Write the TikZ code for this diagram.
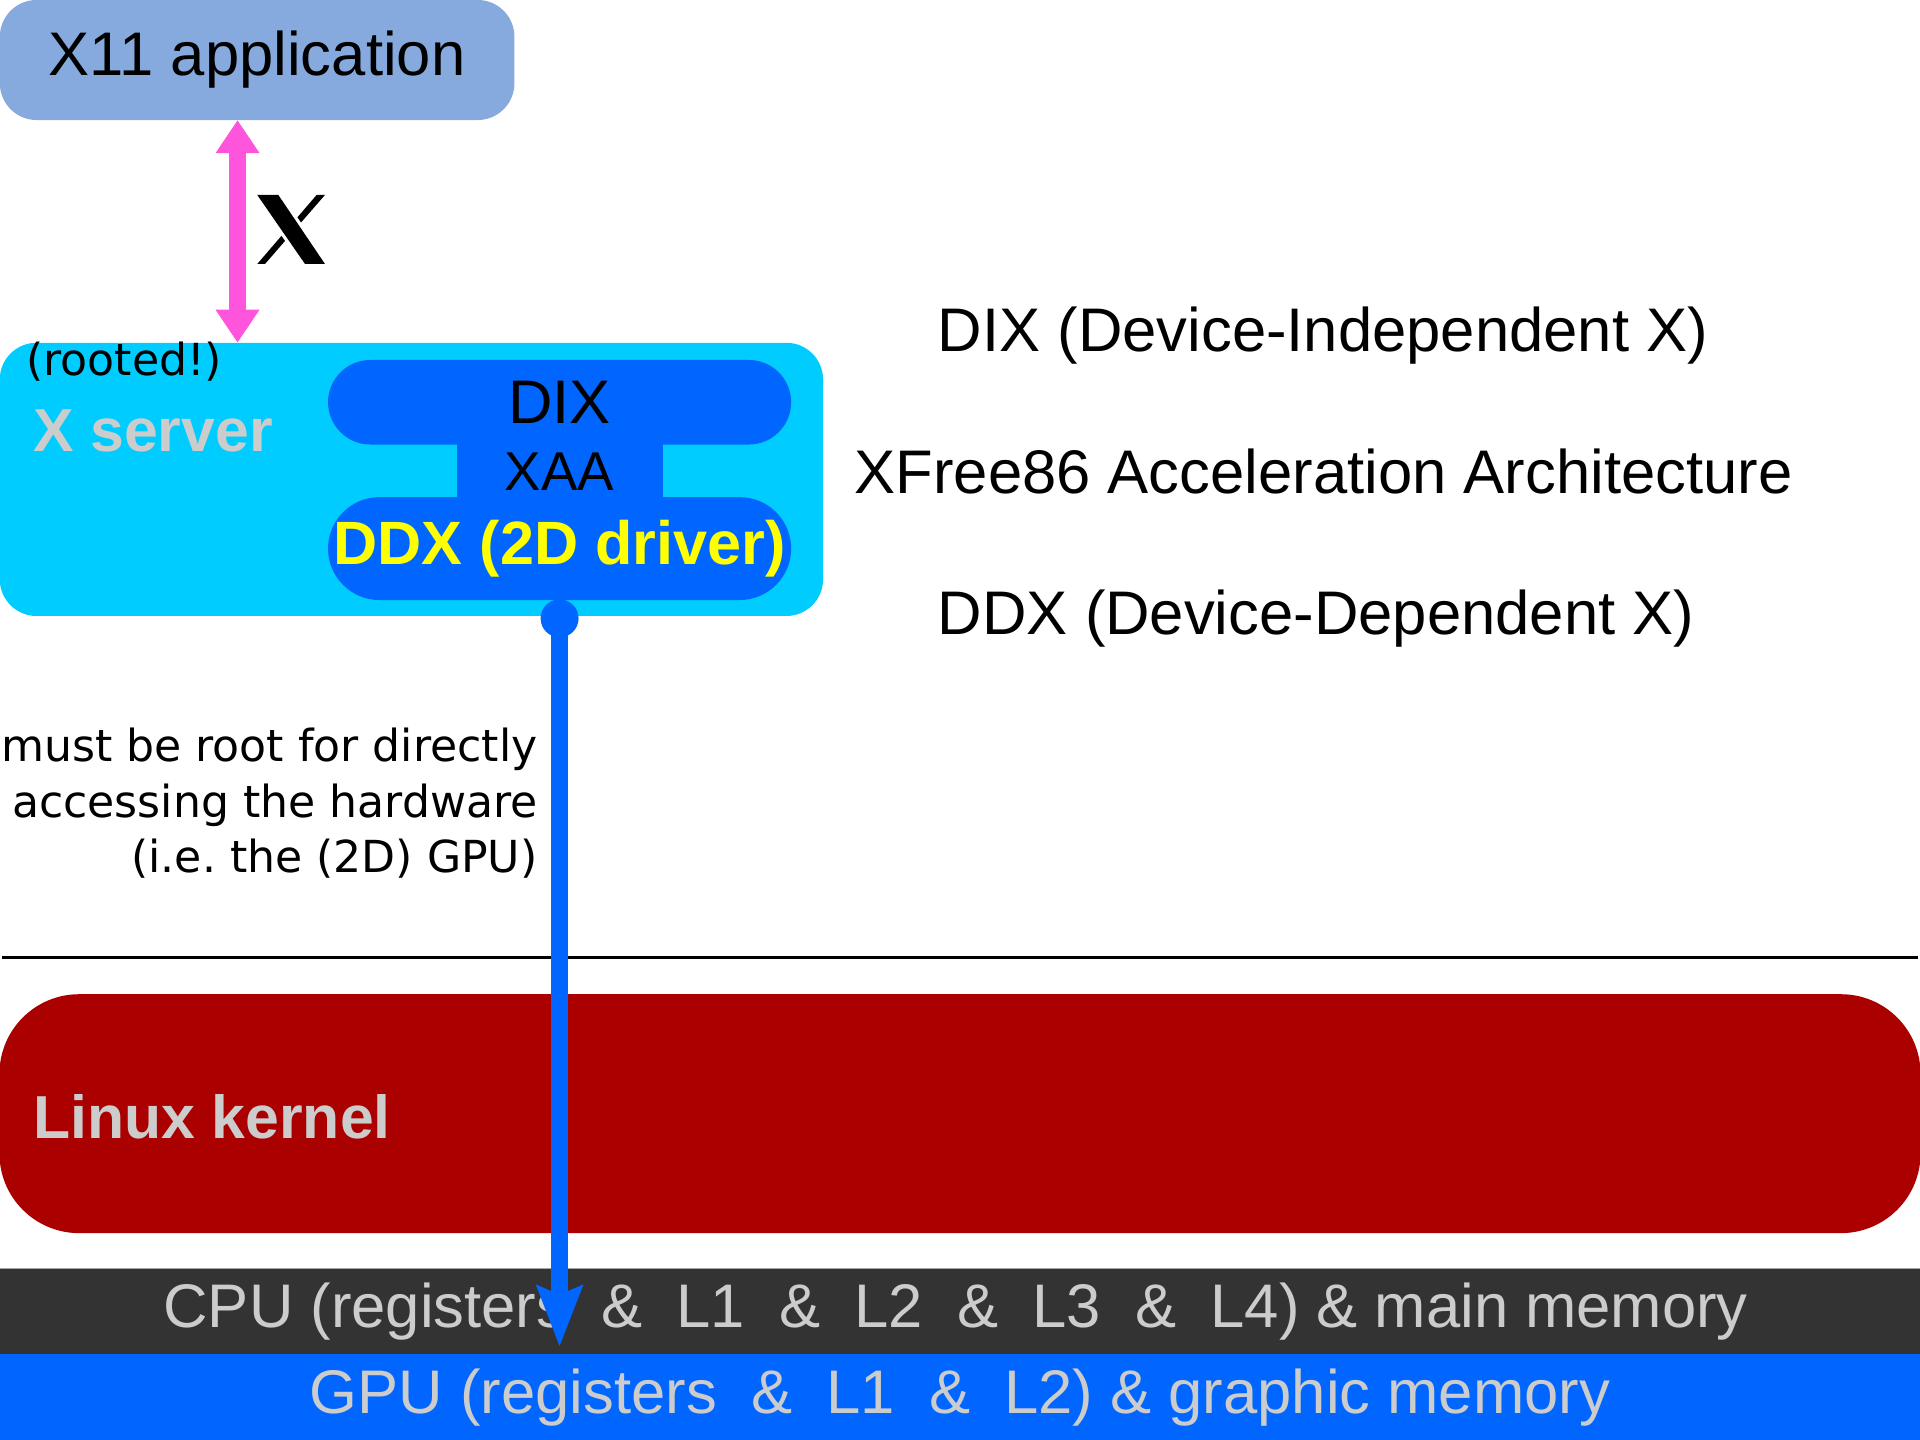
\documentclass[tikz,border=0pt]{standalone}
\usepackage{fontspec}
\setmainfont{Liberation Sans}
\newfontfamily\dejavu{DejaVu Sans}
\usetikzlibrary{arrows.meta}
\usetikzlibrary{calc}

\definecolor{appblue}{HTML}{87AADE}
\definecolor{xcyan}{HTML}{00CCFF}
\definecolor{ddxblue}{HTML}{0066FF}
\definecolor{xpink}{HTML}{FF55DD}
\definecolor{kernred}{HTML}{AA0000}
\definecolor{labelgray}{HTML}{CCCCCC}
\definecolor{cpugray}{HTML}{333333}
\definecolor{ddxyellow}{HTML}{FFFF00}

\tikzset{
	box/.style={inner sep=0pt, outer sep=0pt},
	big/.style={font=\fontsize{14.3}{17}\selectfont},
	bigbold/.style={font=\fontsize{14.1}{17}\selectfont\bfseries},
	small/.style={font=\dejavu\fontsize{10.25}{12.95}\selectfont},
	xproto/.style={draw=xpink, line width=0.142cm,
		arrows={Triangle[length=0.27cm,width=0.34cm]-Triangle[length=0.27cm,width=0.34cm]}},
	hwaccess/.style={draw=ddxblue, line width=0.136cm,
		arrows={-Stealth[length=0.495cm,width=0.364cm,inset=0.07cm]}}
}

\begin{document}
\begin{tikzpicture}[x=0.01cm,y=-0.01cm]
	%% page frame (1 unit = 1 px of the picture)
	\useasboundingbox (0,0) rectangle (1568,1176);

	%% X11 client on top
	\node[box, big, fill=appblue, rounded corners=0.3cm,
		minimum width=4.2cm, minimum height=0.98cm] (app) at (210,49) {X11 application};

	%% X server and its layers
	\node[box, fill=xcyan, rounded corners=0.3cm,
		minimum width=6.72cm, minimum height=2.23cm] (xsrv) at (336,391.5) {};
	\node[box, small, anchor=base west] (rooted) at (21.5,307) {(rooted!)};
	\node[box, bigbold, text=labelgray, anchor=base west] (xsrvlabel) at (27,369) {X server};

	\node[box, fill=ddxblue, font=\fontsize{12.7}{15}\selectfont,
		minimum width=1.68cm, minimum height=0.46cm] (xaa) at (457,385) {XAA};
	\node[box, big, fill=ddxblue, rounded corners=0.345cm,
		minimum width=3.78cm, minimum height=0.69cm] (dix) at (457,328.5) {DIX};
	\node[box, font=\fontsize{14.2}{17}\selectfont\bfseries, text=ddxyellow, fill=ddxblue,
		rounded corners=0.42cm, minimum width=3.78cm, minimum height=0.84cm] (ddx) at (457,448) {DDX (2D driver)};

	% connection point of the driver
	\node[circle, fill=ddxblue, inner sep=0pt, minimum size=0.31cm] (port) at (457,505) {};

	%% explanations on the right
	\node[box, big, anchor=base west] (dixnote) at (766,287) {DIX (Device-Independent X)};
	\node[box, big, anchor=base west] (xaanote) at (698,403) {XFree86 Acceleration Architecture};
	\node[box, big, anchor=base west] (ddxnote) at (766,518) {DDX (Device-Dependent X)};

	%% why the server is rooted
	\node[box, small, align=right, anchor=east] (rootnote) at (439,656)
		{must be root for directly\\accessing the hardware\\(i.e.\ the (2D) GPU)};

	%% kernel space
	\node[box, fill=kernred, rounded corners=0.65cm,
		minimum width=15.68cm, minimum height=1.95cm] (kernel) at (784,909.5) {};
	\node[box, bigbold, text=labelgray, anchor=base west] (kernlabel) at (27,930) {Linux kernel};

	%% hardware
	\node[box, big, fill=cpugray, text=labelgray,
		minimum width=15.68cm, minimum height=0.70cm] (cpu) at (784,1071)
		{\hspace*{-0.07cm}CPU (registers\ \ \&\ \ L1\ \ \&\ \ L2\ \ \&\ \ L3\ \ \&\ \ L4) \& main memory};
	\node[box, big, fill=ddxblue, text=labelgray,
		minimum width=15.68cm, minimum height=0.70cm] (gpu) at (784,1141)
		{GPU (registers\ \ \&\ \ L1\ \ \&\ \ L2) \& graphic memory};
	\draw[gray!70, line width=0.3pt] (cpu.north west) -- (cpu.north east);

	%% user space / kernel space border
	\coordinate (sepL) at (2,782);
	\coordinate (sepR) at (1566,782);
	\draw[line width=0.7pt] (sepL) -- (sepR);

	%% X protocol between client and server
	\coordinate (xcol) at (194,0);
	\draw[xproto] (app.south -| xcol) -- (xsrv.north -| xcol);

	% X logo next to it
	\fill[black] (258.6,159.2) -- (265.4,159.2) -- (216.4,215.6) -- (210.1,215.6) -- cycle; % thin stroke
	\draw[white, line width=1.5pt] (210.1,159.2) -- (227.3,159.2) -- (265.4,215.6) -- (249.1,215.6) -- cycle;
	\fill[black] (210.1,159.2) -- (227.3,159.2) -- (265.4,215.6) -- (249.1,215.6) -- cycle; % thick stroke

	%% direct access of the driver to the GPU
	\coordinate (gpuin) at (457,1100);
	\draw[hwaccess] (port.center) -- (gpuin);
\end{tikzpicture}
\end{document}
